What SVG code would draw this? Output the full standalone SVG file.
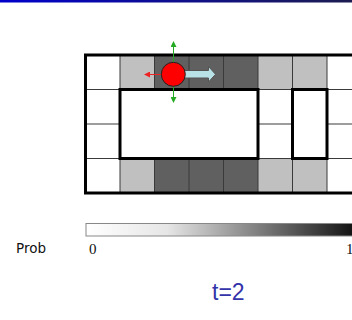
<svg xmlns="http://www.w3.org/2000/svg" width="352" height="320" viewBox="0 0 352 320">
<defs>
<linearGradient id="topbar" x1="0" y1="0" x2="1" y2="0">
<stop offset="0" stop-color="#0000cc"/>
<stop offset="1" stop-color="#1c1c50"/>
</linearGradient>
<linearGradient id="cbar" x1="0" y1="0" x2="1" y2="0">
<stop offset="0" stop-color="#ffffff"/>
<stop offset="0.3" stop-color="#e6e6e6"/>
<stop offset="1" stop-color="#101010"/>
</linearGradient>
<marker id="gArrow" viewBox="0 0 6 6" refX="5" refY="3" markerWidth="6" markerHeight="6" orient="auto" markerUnits="userSpaceOnUse">
<path d="M0,0 L6,3 L0,6 Z" fill="#22aa22"/>
</marker>
<marker id="rArrow" viewBox="0 0 6 6" refX="5" refY="3" markerWidth="6" markerHeight="6" orient="auto" markerUnits="userSpaceOnUse">
<path d="M0,0 L6,3 L0,6 Z" fill="#ee2222"/>
</marker>
</defs>
<style>
.light{fill:#c0c0c0}
.dark{fill:#606060}
.white{fill:#ffffff}
.thin{stroke:#3a3a3a;stroke-width:1;fill:none}
.thick{stroke:#000;stroke-width:3;fill:none}
.prob{font-family:"DejaVu Sans",sans-serif;font-size:13.5px;fill:#111}
.num{font-family:"Liberation Serif",serif;font-size:15px;fill:#111}
.title{font-family:"Liberation Sans",sans-serif;font-size:23px;fill:#3333aa}
</style>
<rect x="0" y="0" width="352" height="2.5" fill="url(#topbar)"/>
<g id="grid">
<rect class="white" x="85.5" y="55" width="276" height="138"/>
<rect class="light" x="120" y="55" width="34.5" height="34.5"/>
<rect class="dark" x="154.5" y="55" width="103.5" height="34.5"/>
<rect class="light" x="258" y="55" width="69" height="34.5"/>
<rect class="light" x="120" y="158.5" width="34.5" height="34.5"/>
<rect class="dark" x="154.5" y="158.5" width="103.5" height="34.5"/>
<rect class="light" x="258" y="158.5" width="69" height="34.5"/>
<path class="thin" d="M85.5,89.5H362M85.5,124H120M258,124H292.5M327,124H362M85.5,158.5H362M120,55V193M154.5,55V89.5M154.5,158.5V193M189,55V89.5M189,158.5V193M223.5,55V89.5M223.5,158.5V193M258,55V193M292.5,55V193M327,55V193"/>
<rect class="thick" x="120" y="89.5" width="138" height="69"/>
<rect class="thick" x="292.5" y="89.5" width="34.5" height="69"/>
<rect class="thick" x="85.5" y="55" width="278" height="138"/>
</g>
<g id="connectors">
<line x1="173.5" y1="62" x2="173.5" y2="42" stroke="#22aa22" stroke-width="1" marker-end="url(#gArrow)"/>
<line x1="173.5" y1="86" x2="173.5" y2="102" stroke="#22aa22" stroke-width="1" marker-end="url(#gArrow)"/>
<line x1="161" y1="74.5" x2="145" y2="74.5" stroke="#ee2222" stroke-width="1" marker-end="url(#rArrow)"/>
<path d="M184,70.5 H208.5 V66.5 L215.5,74.3 L208.5,82 V78 H184 Z" fill="#b8e2e6" stroke="#555" stroke-width="1"/>
</g>
<g id="robot">
<circle cx="173.3" cy="74.3" r="12" fill="#ff0000" stroke="#222" stroke-width="1"/>
</g>
<g id="colorbar">
<rect x="86" y="223.5" width="270" height="12.5" fill="url(#cbar)" stroke="#888" stroke-width="1"/>
<text class="prob" x="16" y="253">Prob</text>
<text class="num" x="89" y="254">0</text>
<text class="num" x="346" y="254">1</text>
</g>
<text class="title" x="212" y="300">t=2</text>
</svg>
